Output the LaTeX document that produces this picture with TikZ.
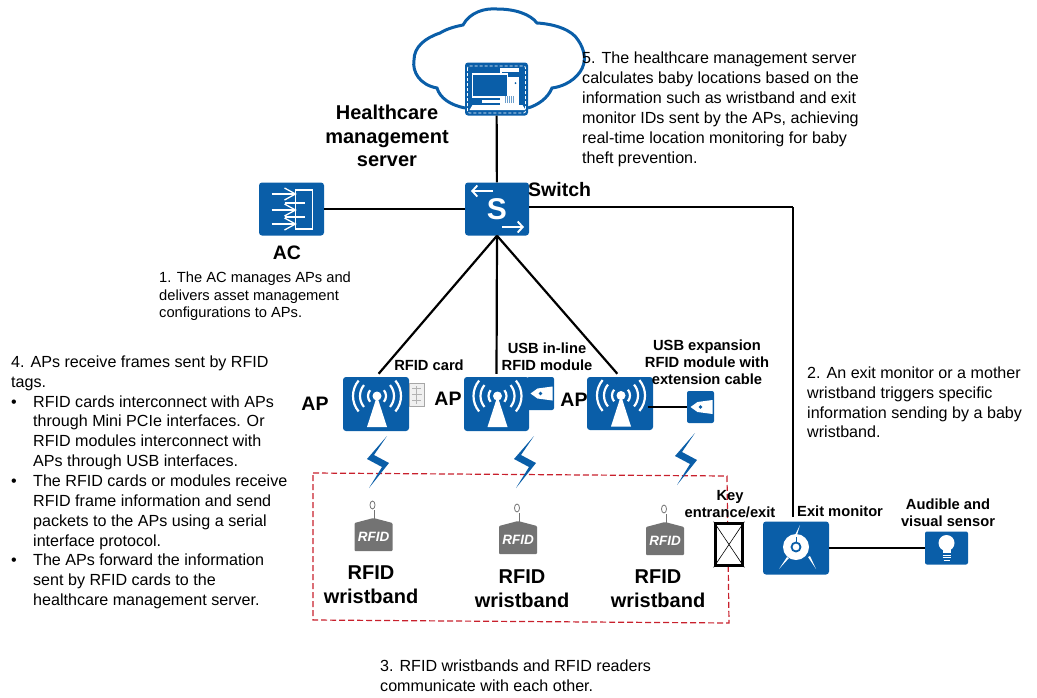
\documentclass[tikz,border=0pt]{standalone}
\usepackage{fontspec}
\setmainfont{Liberation Sans}
\usetikzlibrary{arrows.meta}
\definecolor{iconblue}{HTML}{0A5EA8}
\definecolor{taggray}{HTML}{737373}
\definecolor{zonered}{HTML}{C8202C}
\newcommand{\itemrow}[1]{\makebox[22pt][l]{\textbullet}#1}
\newcommand{\itemnext}[1]{\hspace*{22pt}#1}
\tikzset{
	link/.style={line width=2.2pt,black},
	bigbox/.style={draw=none,fill=iconblue,rounded corners=3pt,minimum width=65pt,minimum height=53pt,inner sep=0},
	smallbox/.style={draw=none,fill=iconblue,rounded corners=2pt,minimum width=27pt,minimum height=33pt,inner sep=0},
	sensorbox/.style={draw=none,fill=iconblue,rounded corners=2pt,minimum width=43pt,minimum height=33pt,inner sep=0},
	glyph/.style={white,line width=2.2pt},
	caption/.style={font=\bfseries\fontsize{14.7}{17}\selectfont,align=center,inner sep=0},
	aplabel/.style={font=\bfseries\fontsize{19.5}{22}\selectfont,inner sep=0},
	bandlabel/.style={font=\bfseries\fontsize{20}{24}\selectfont,align=center,inner sep=0},
	note/.style={font=\fontsize{16.1}{19.85}\selectfont,align=left,anchor=north west,inner sep=0},
	smallnote/.style={font=\fontsize{14.7}{17.5}\selectfont,align=left,anchor=north west,inner sep=0},
	tagtext/.style={font=\bfseries\itshape\fontsize{13.5}{14}\selectfont,white,inner sep=0},
	apicon/.pic={
		\fill [white] (1,-8) circle (4.5);
		\fill [white] (1,-8) -- (11,23) -- (-9,23) -- cycle;
		\foreach \r in {9,17,24} {
			\draw [glyph] (1,-8) ++(140:\r) arc (140:220:\r);
			\draw [glyph] (1,-8) ++(-40:\r) arc (-40:40:\r);
		}
	},
	acicon/.pic={
		\draw [glyph,line width=1.9pt] (4,-19) rectangle (21,20);
		\foreach \y in {-15,1,15} {
			\draw [glyph,line width=1.3pt] (-20,\y) -- (4,\y);
			\draw [glyph,line width=1.3pt] (-7,\y-6) -- (4,\y) -- (-7,\y+6);
		}
		\draw [glyph,line width=1.3pt] (-7,-6) -- (13,-6) (-7,8) -- (13,8);
	},
	swicon/.pic={
		\draw [glyph,line width=1.9pt,-{Straight Barb[length=5pt,width=11pt]}] (-4,-18) -- (-26,-18);
		\draw [glyph,line width=1.9pt,-{Straight Barb[length=5pt,width=11pt]}] (5,18) -- (27,18);
	},
	srvicon/.pic={
		\draw [white,line width=0.8pt,dash pattern=on 3pt off 2pt,rounded corners=2pt] (-29,-23) rectangle (29,24);
		\fill [white] (3,-21) rectangle (22,16);
		\fill [iconblue] (5,-17) rectangle (22,-12);
		\fill [iconblue] (19,-6) circle (1);
		\draw [white,fill=iconblue,line width=1.4pt] (-24,-15) rectangle (11,8);
		\fill [white] (-15,11) rectangle (7,14);
		\fill [white] (-27,21) -- (-24,16) -- (26,16) -- (29,21) -- cycle;
		\foreach \x in {9,11,13,15,17} {
			\draw [iconblue!60,line width=0.6pt] (\x,14) -- (\x,7);
		}
	},
	usbicon/.pic={
		\fill [white] (-10,0) -- (-3,-5) -- (12,-7) -- (12,7) -- (-3,5) -- cycle;
		\fill [iconblue] (0,0) circle (1.8);
	},
	boltshape/.pic={
		\fill [iconblue] (9,-26) -- (-11,-3) -- (4,5) -- (-9,26) -- (11,1) -- (-4,-7) -- cycle;
	},
	tagshape/.pic={
		\fill [taggray,rounded corners=1pt] (0,-17) -- (19,-12) -- (19,16) -- (-19,16) -- (-19,-12) -- cycle;
		\draw [taggray,line width=1pt] (1,-16) -- (1,-25);
		\draw [taggray,line width=0.8pt] (-1,-30) ellipse (2.5 and 4);
	},
	monicon/.pic={
		\fill [white] (0,-1) circle (13);
		\draw [iconblue,line width=1.8pt] (0,-1) circle (4.5);
		\fill [iconblue] (-0.5,-11) rectangle (0.5,-6);
		\fill [white] (4,-23) -- (1,-13) -- (-1,-13) -- cycle;
		\fill [white] (-17,21) -- (-9,9) -- (-7,10) -- cycle;
		\fill [white] (20,21) -- (12,9) -- (14,8) -- cycle;
	},
	bulbicon/.pic={
		\fill [white] (0,-5) circle (8);
		\fill [white] (-4,0) rectangle (4,5);
		\draw [white,line width=1pt] (-4,7) -- (4,7) (-4,9.5) -- (4,9.5) (-3,12) -- (3,12);
	}
}
\begin{document}
\begin{tikzpicture}[x=1pt,y=-1pt]
	\useasboundingbox (0,0) rectangle (1037,697);
	
	\draw [iconblue,line width=3pt] (465,108) .. controls (450,105) and (440,98) .. (437,88) .. controls (420,85) and (412,72) .. (414,60) .. controls (414,47) and (425,38) .. (440,33) .. controls (448,28) and (458,26) .. (463,25) .. controls (470,12) and (485,8) .. (497,9) .. controls (515,9) and (530,14) .. (537,23) .. controls (555,24) and (572,30) .. (578,40) .. controls (585,50) and (587,62) .. (580,72) .. controls (572,83) and (560,87) .. (552,88) .. controls (548,98) and (538,105) .. (528,108);
	
	\draw [zonered,line width=1.2pt,dash pattern=on 6pt off 3pt] (313,473) -- (727,476) -- (729,623) -- (313,620) -- cycle;
	
	\node (srv) [bigbox,minimum width=63pt] at (496.5,89) {};
	\node (ac) [bigbox] at (291.5,209) {};
	\node (sw) [bigbox,minimum width=64pt] at (497,209) {};
	\node (mod2) [smallbox] at (540.5,393.5) {};
	\node (ap1) [bigbox,minimum width=66pt,minimum height=54pt] at (376,404) {};
	\node (ap2) [bigbox,minimum width=65pt,minimum height=54pt] at (496.5,404) {};
	\node (ap3) [bigbox,minimum width=66pt,minimum height=53pt] at (620,403.5) {};
	\node (mod3) [smallbox,minimum height=32pt] at (700.5,407) {};
	\node (em) [bigbox,minimum width=66pt] at (796,548) {};
	\node (snd) [sensorbox] at (946.5,548) {};
	\node (card) [draw=gray!70,fill=gray!12,line width=1pt,minimum width=15pt,minimum height=23pt,inner sep=0] at (417,395) {};
	\node (key) [draw=black,fill=white,line width=3.8pt,minimum width=27pt,minimum height=42pt,inner sep=0] at (729,544.5) {};
	\coordinate (c1) at (793,207);
	
	\draw [link] (srv) edge (sw);
	\draw [link] (ac) edge (sw);
	\draw [link,shorten >=4pt] (sw.south) edge (ap1.north);
	\draw [link,shorten >=3pt] (sw.south) edge (ap2.north);
	\draw [link,shorten >=4pt] (sw.south) edge (ap3.north);
	\draw [link] (sw.east |- c1) -- (c1);
	\draw [link,shorten >=4pt] (c1) -- (c1 |- em.north);
	\draw [link,shorten <=-5pt] (ap3.east |- mod3) -- (mod3.west);
	\draw [link] (em) edge (snd);
	\draw [black,line width=0.6pt] (key.north west) -- (key.south east) (key.north east) -- (key.south west);
	\draw [gray!60,line width=0.5pt] (412,388) -- (421,388) (412,394) -- (422,394) (412,400) -- (421,400) (416,386) -- (416,404);
	
	\pic at (srv) {srvicon};
	\pic at (ac) {acicon};
	\pic at (sw) {swicon};
	\pic at (ap1) {apicon};
	\pic at (ap2) {apicon};
	\pic at (ap3) {apicon};
	\pic at (mod2) {usbicon};
	\pic at (mod3) {usbicon};
	\pic at (em) {monicon};
	\pic at (snd) {bulbicon};
	\pic at (378,462) {boltshape};
	\pic at (525,462) {boltshape};
	\pic at (686,459) {boltshape};
	\pic at (373.5,535) {tagshape};
	\pic at (518,538) {tagshape};
	\pic at (665,539) {tagshape};
	
	\node (s) [white,font=\bfseries\fontsize{30}{30}\selectfont,inner sep=0] at (497,209) {S};
	\node (rf1) [tagtext] at (373.5,537) {RFID};
	\node (rf2) [tagtext] at (518,540) {RFID};
	\node (rf3) [tagtext] at (665,541) {RFID};
	
	\node (l1) [font=\bfseries\fontsize{20}{23.5}\selectfont,align=center,inner sep=0] at (387,136) {Healthcare\\management\\server};
	\node (l2) [aplabel,anchor=west] at (528,190) {Switch};
	\node (l3) [aplabel] at (287,253) {AC};
	\node (l4) [aplabel] at (315,404) {AP};
	\node (l5) [aplabel] at (448,399) {AP};
	\node (l6) [aplabel] at (574,400) {AP};
	\node (l7) [caption] at (429,365) {RFID card};
	\node (l8) [caption] at (547,357) {USB in-line\\RFID module};
	\node (l9) [caption] at (707,362) {USB expansion\\RFID module with\\extension cable};
	\node (l10) [caption] at (730,504) {Key\\entrance/exit};
	\node (l11) [caption,anchor=west] at (797,511) {Exit monitor};
	\node (l12) [caption] at (948,513) {Audible and\\visual sensor};
	\node (l13) [bandlabel] at (371,585) {RFID\\wristband};
	\node (l14) [bandlabel] at (522,589) {RFID\\wristband};
	\node (l15) [bandlabel] at (658,589) {RFID\\wristband};
	
	\node (n1) [smallnote] at (159,272) {1. The AC manages APs and\\delivers asset management\\configurations to APs.};
	\node (n2) [note] at (807,366.5) {2. An exit monitor or a mother\\wristband triggers specific\\information sending by a baby\\wristband.};
	\node (n3) [note] at (380,659.5) {3. RFID wristbands and RFID readers\\communicate with each other.};
	\node (n4) [note] at (11,355.5) {4. APs receive frames sent by RFID\\tags.\\\itemrow{RFID cards interconnect with APs}\\\itemnext{through Mini PCIe interfaces. Or}\\\itemnext{RFID modules interconnect with}\\\itemnext{APs through USB interfaces.}\\\itemrow{The RFID cards or modules receive}\\\itemnext{RFID frame information and send}\\\itemnext{packets to the APs using a serial}\\\itemnext{interface protocol.}\\\itemrow{The APs forward the information}\\\itemnext{sent by RFID cards to the}\\\itemnext{healthcare management server.}};
	\node (n5) [note] at (582,52) {5. The healthcare management server\\calculates baby locations based on the\\information such as wristband and exit\\monitor IDs sent by the APs, achieving\\real-time location monitoring for baby\\theft prevention.};
\end{tikzpicture}
\end{document}
